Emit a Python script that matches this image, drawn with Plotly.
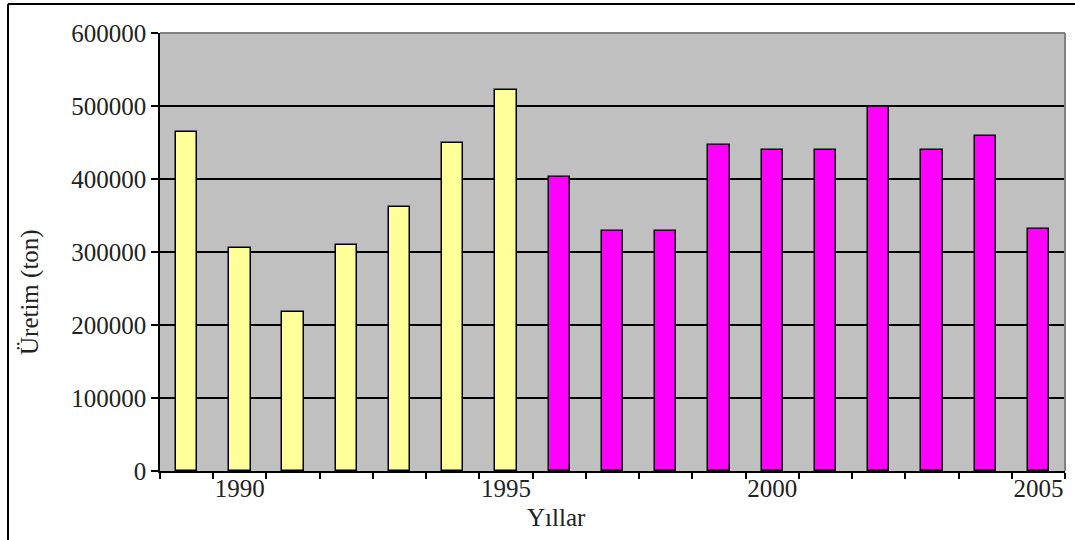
import plotly.graph_objects as go

years_a = ["1989", "1990", "1991", "1992", "1993", "1994", "1995"]
values_a = [465000, 306000, 218000, 309000, 362000, 450000, 522000]
years_b = ["1996", "1997", "1998", "1999", "2000", "2001", "2002", "2003", "2004", "2005"]
values_b = [403000, 329000, 329000, 447000, 440000, 440000, 498000, 440000, 459000, 331000]
x_categories = years_a + years_b
x_tick_text = ["", "1990", "", "", "", "", "1995", "", "", "", "", "2000", "", "", "", "", "2005"]
y_tick_vals = [0, 100000, 200000, 300000, 400000, 500000, 600000]
y_tick_text = ["0", "100000", "200000", "300000", "400000", "500000", "600000"]

W, H = 1075, 540
L, R, T, B = 160, 10, 33, 69
pw, ph = W - L - R, H - T - B

def px_x(p):
    return (p - L) / pw

def px_y(p):
    return (H - B - p) / ph

font = "Liberation Serif, Times New Roman, serif"
fs = 25
tc = "#222222"

fig = go.Figure()
fig.add_trace(go.Bar(x=years_a, y=values_a, width=0.4,
                     marker=dict(color="#FFFF99", line=dict(color="black", width=1.5)),
                     showlegend=False))
fig.add_trace(go.Bar(x=years_b, y=values_b, width=0.4,
                     marker=dict(color="#FF00FF", line=dict(color="black", width=1.5)),
                     showlegend=False))

fig.update_layout(
    width=W, height=H,
    margin=dict(l=L, r=R, t=T, b=B, pad=0),
    paper_bgcolor="white",
    plot_bgcolor="#C0C0C0",
    font=dict(family=font, size=fs, color=tc),
    bargap=0,
)
fig.update_xaxes(
    type="category", categoryorder="array", categoryarray=x_categories,
    range=[-0.5, len(x_categories) - 0.5],
    tickmode="array", tickvals=x_categories, ticktext=x_tick_text, tickangle=0,
    tickson="boundaries", ticks="outside", ticklen=6, tickcolor="black", tickwidth=1.5,
    ticklabelstandoff=-6,
    showgrid=False, zeroline=False, automargin=False,
    showline=True, linecolor="black", linewidth=1.5,
    tickfont=dict(family=font, size=fs, color=tc),
)
fig.update_yaxes(
    range=[0, 600000], automargin=False,
    tickmode="array", tickvals=y_tick_vals, ticktext=y_tick_text,
    ticks="outside", ticklen=7, tickcolor="black", tickwidth=1.5,
    showgrid=True, gridcolor="black", gridwidth=1.5,
    zeroline=False, showline=True, linecolor="black", linewidth=1.5,
    tickfont=dict(family=font, size=fs, color=tc),
)

# gray top/right plot frame
fig.add_shape(type="line", xref="paper", yref="paper", x0=0, x1=1, y0=1, y1=1,
              line=dict(color="#808080", width=2), layer="above")
fig.add_shape(type="line", xref="paper", yref="paper", x0=1, x1=1, y0=0, y1=1,
              line=dict(color="#808080", width=2), layer="above")
# outer image border (left and top)
fig.add_shape(type="line", xref="paper", yref="paper",
              x0=px_x(8), x1=px_x(8), y0=px_y(560), y1=px_y(4),
              line=dict(color="black", width=2))
fig.add_shape(type="line", xref="paper", yref="paper",
              x0=px_x(8), x1=px_x(1090), y0=px_y(4), y1=px_y(4),
              line=dict(color="black", width=2))

fig.add_annotation(text="Yıllar", xref="paper", yref="paper",
                   x=px_x(556), y=px_y(517), showarrow=False,
                   xanchor="center", yanchor="middle",
                   font=dict(family=font, size=fs, color=tc))
fig.add_annotation(text="Üretim (ton)", xref="paper", yref="paper",
                   x=px_x(30), y=px_y(292), showarrow=False, textangle=-90,
                   xanchor="center", yanchor="middle",
                   font=dict(family=font, size=fs, color=tc))

fig.write_html("out.html", config={"displayModeBar": False},
               post_script="document.body.style.margin='0';document.body.style.overflow='hidden';")
